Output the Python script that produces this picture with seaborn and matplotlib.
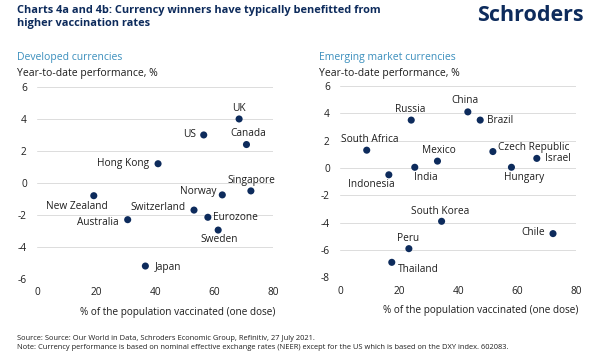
import pandas as pd
import matplotlib.pyplot as plt
import seaborn as sns

# Developed currencies
dev_names = ['UK', 'US', 'Canada', 'Hong Kong', 'Singapore', 'Norway', 'New Zealand',
             'Switzerland', 'Eurozone', 'Australia', 'Sweden', 'Japan']
dev_vacc = [68.5, 56.5, 71.0, 41.0, 72.5, 62.8, 19.2, 53.2, 57.9, 30.7, 61.4, 36.7]
dev_perf = [4.0, 3.0, 2.4, 1.2, -0.5, -0.75, -0.8, -1.7, -2.15, -2.3, -2.95, -5.2]

# Emerging market currencies
em_names = ['China', 'Russia', 'Brazil', 'South Africa', 'Mexico', 'Czech Republic', 'Israel',
            'India', 'Hungary', 'Indonesia', 'South Korea', 'Chile', 'Peru', 'Thailand']
em_vacc = [43.3, 24.1, 47.5, 9.0, 33.0, 51.8, 66.7, 25.3, 58.1, 16.5, 34.4, 72.2, 23.3, 17.5]
em_perf = [4.1, 3.5, 3.5, 1.3, 0.5, 1.2, 0.7, 0.05, 0.05, -0.5, -3.9, -4.8, -5.9, -6.9]

# label offsets in pixels (dx, dy, ha)
dev_lab = {'UK': (0, 10, 'center'), 'US': (-8, 0, 'right'), 'Canada': (2, 11, 'center'),
           'Hong Kong': (-9, 0, 'right'), 'Singapore': (1, 10, 'center'),
           'Norway': (-6, 3, 'right'), 'New Zealand': (-17, -11, 'center'),
           'Switzerland': (-8, 3, 'right'), 'Eurozone': (5, 0, 'left'),
           'Australia': (-9, -3, 'right'), 'Sweden': (1, -9, 'center'), 'Japan': (9, -1, 'left')}
em_lab = {'China': (-3, 11, 'center'), 'Russia': (-1, 11, 'center'), 'Brazil': (7, 0, 'left'),
          'South Africa': (3, 11, 'center'), 'Mexico': (1, 11, 'center'),
          'Czech Republic': (5, 4, 'left'), 'Israel': (8, 0, 'left'),
          'India': (11, -10, 'center'), 'Hungary': (13, -10, 'center'),
          'Indonesia': (-18, -10, 'center'), 'South Korea': (-1, 10, 'center'),
          'Chile': (-8, 1, 'right'), 'Peru': (-1, 10, 'center'), 'Thailand': (6, -7, 'left')}

sns.set_theme(style='white')
plt.rcParams['font.family'] = ['Open Sans', 'DejaVu Sans']
plt.rcParams['axes.unicode_minus'] = False

navy = '#0d2b5c'
teal = '#3b8fbd'
ink = '#1e1e1e'

dev = pd.DataFrame({'name': dev_names, 'vacc': dev_vacc, 'perf': dev_perf})
em = pd.DataFrame({'name': em_names, 'vacc': em_vacc, 'perf': em_perf})

fig = plt.figure(figsize=(6, 3.64), dpi=100)
ax1 = fig.add_axes([0.062, 0.234, 0.393, 0.527])
ax2 = fig.add_axes([0.567, 0.238, 0.393, 0.526])

panels = [(ax1, dev, dev_lab, (-6, 6), 'Developed currencies', 0.028),
          (ax2, em, em_lab, (-8, 6), 'Emerging market currencies', 0.532)]

for ax, df, labs, ylim, sub, xl in panels:
    ax.set_xlim(0, 80)
    ax.set_ylim(*ylim)
    ax.set_yticks(range(ylim[0], ylim[1] + 1, 2))
    ax.set_xticks([0, 20, 40, 60, 80])
    ax.grid(axis='y', color='#dcdcdc', linewidth=0.7)
    ax.set_axisbelow(True)
    sns.scatterplot(data=df, x='vacc', y='perf', ax=ax, color=navy, s=26,
                    edgecolor='none', zorder=3)
    for _, r in df.iterrows():
        dx, dy, ha = labs[r['name']]
        ax.annotate(r['name'], (r['vacc'], r['perf']), xytext=(dx, dy),
                    textcoords='offset pixels', ha=ha, va='center',
                    fontsize=7.3, color=ink)
    for s in ax.spines.values():
        s.set_visible(False)
    ax.tick_params(axis='both', length=0, labelsize=7.3, labelcolor=ink)
    ax.tick_params(axis='y', pad=7.5)
    ax.tick_params(axis='x', pad=6)
    ax.set_xlabel('% of the population vaccinated (one dose)', fontsize=7.2,
                  color=ink, ha='right')
    ax.xaxis.set_label_coords(1.01, -0.145)
    ax.set_ylabel('')
    fig.text(xl, 0.843, sub, fontsize=7.5, color=teal, va='center')
    fig.text(xl, 0.799, 'Year-to-date performance, %', fontsize=7.5, color=ink, va='center')

fig.text(0.028, 0.985, 'Charts 4a and 4b: Currency winners have typically benefitted from\nhigher vaccination rates',
         fontsize=7.9, fontweight='bold', color=navy, va='top', linespacing=1.25)
fig.text(0.973, 0.958, 'Schroders', fontsize=15.5, fontweight='bold', color=navy,
         ha='right', va='center')
fig.text(0.028, 0.071, 'Source: Source: Our World in Data, Schroders Economic Group, Refinitiv, 27 July 2021.',
         fontsize=5.4, color=ink, va='center')
fig.text(0.028, 0.044, 'Note: Currency performance is based on nominal effective exchange rates (NEER) except for the US which is based on the DXY index. 602083.',
         fontsize=5.4, color=ink, va='center')

fig.savefig('out.png', dpi=100, facecolor='white')
